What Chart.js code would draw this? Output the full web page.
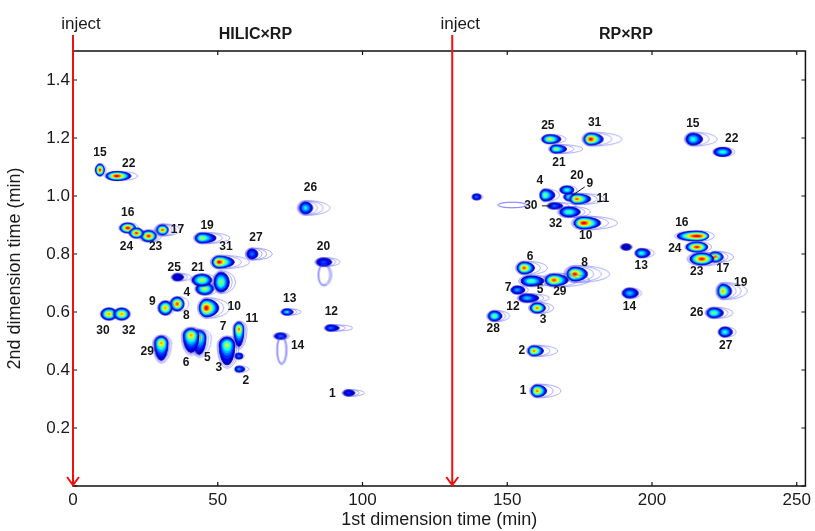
<!DOCTYPE html>
<html>
<head>
<meta charset="utf-8">
<script src="https://cdn.jsdelivr.net/npm/chart.js@4"></script>
<style>
  body { margin: 0; background: #fff; }
  #wrap { width: 815px; height: 531px; }
</style>
</head>
<body>
<div id="wrap"><canvas id="c" width="815" height="531"></canvas></div>
<script>
// HILIC x RP: peak number, 1st dim time (min), 2nd dim time (min), relative height
const hilicPeaks = ['1','2','3','4','5','6','7','8','9','10','11','12','13','14','15','16','17','19','20','21','22','23','24','25','26','27','29','30','31','32','','',''];
const hilicT1 = [95.1,57.3,57.3,45.5,43.6,40.8,53.2,36.0,31.9,46.0,57.3,88.9,73.8,71.7,9.3,18.9,30.9,44.6,86.5,44.5,15.1,26.1,21.9,36.0,80.3,61.8,30.5,12.4,50.4,16.8,51.1,86.5,72.0];
const hilicT2 = [0.321,0.403,0.448,0.680,0.513,0.520,0.486,0.628,0.614,0.614,0.541,0.545,0.600,0.517,1.090,0.890,0.883,0.855,0.772,0.710,1.069,0.862,0.872,0.720,0.959,0.800,0.493,0.593,0.772,0.593,0.703,0.728,0.469];
const hilicHeight = [0.2,0.35,0.3,0.65,0.7,0.8,0.65,0.9,0.8,1.0,0.85,0.3,0.45,0.3,0.95,1.0,0.9,0.65,0.25,0.65,1.0,0.95,0.95,0.15,0.45,0.3,0.8,0.8,1.0,0.8,0.6,0.08,0.07];

// RP x RP
const rpPeaks = ['1','2','3','4','5','6','7','8','9','10','11','12','13','14','15','16','17','19','20','21','22','23','24','25','26','27','28','29','30','31','32','','',''];
const rpT1 = [160.3,159.2,160.3,163.0,158.2,155.8,153.4,173.3,171.6,176.4,174.0,156.8,196.3,192.2,214.1,215.5,221.7,224.4,170.6,166.8,224.4,217.2,215.5,164.7,221.3,225.1,145.5,166.1,166.1,178.8,171.2,139.3,151.7,191.1];
const rpT2 = [0.328,0.466,0.614,1.003,0.707,0.752,0.676,0.731,0.997,0.907,0.990,0.648,0.803,0.665,1.196,0.862,0.790,0.672,1.021,1.162,1.152,0.783,0.824,1.196,0.597,0.531,0.586,0.710,0.966,1.196,0.945,0.997,0.969,0.824];
const rpHeight = [0.85,0.85,0.85,0.6,0.55,0.9,0.35,0.95,0.55,1.0,0.9,0.4,0.5,0.4,0.5,1.0,0.9,0.8,0.5,0.65,0.5,0.95,0.95,0.7,0.6,0.5,0.6,0.9,0.3,1.0,0.55,0.3,0.08,0.12];

const injectTimes = [0, 131];
const panelNames = ['HILIC×RP', 'RP×RP'];

// spot look: [half width px, half height px, right tailing, down tailing, contour rings, ring tailing]
const hilicShape = [[5,3,1.3,1,2,2],[4,3,1.5,1,1,1.5],[4,3,1,1,1,1.2],[9,6,1,1,1,1.3],[7,7,1,2.5,2,1.4],[8,7,1,2.5,2,1.2],[8,8,1,2.5,2,1.2],[7,7,1,1,1,1.5],[7,7,1,1,1,1.2],[7,9,1.8,1,2,1.5],[5,7,1,2.5,2,1.3],[5,3,1.8,1,2,2],[5,3,1.3,1,2,1.8],[6,3,1,1,2,1.2],[4.5,6,1,1,1,1.2],[8,5,1,1,1,1.2],[6,5,1,1,3,2.2],[7,5,2,1,2,1.6],[7,4,1.2,1,2,1.6],[10,6,1,1,1,1.3],[11,4.5,1.3,1,1,1.3],[8,5.5,1,1,2,1.3],[7,5,1,1,1,1],[5,3.5,1.3,1,2,1.8],[6,6,1.2,1,3,2.5],[5,5,1.2,1,3,2.5],[7,7,1,2.5,2,1.2],[8,6,1,1,1,1],[7,6,2.2,1,2,1.6],[8,6,1,1,1,1],[7,10,1.2,1,2,1.4],[4,9,1.3,1,3,1.2],[3.5,12,1,1,3,1.2]];
const rpShape = [[6,6,1.6,1,2,2],[6,5,1.6,1,2,2],[7,5,1.2,1,2,1.6],[5,6,2,1,1,1.3],[10,5,1.3,1,2,1.5],[7,6,1.5,1,2,1.8],[6,4,1.3,1,1,1.3],[8,7,1.6,1,3,2],[6,4,1.2,1,1,1.3],[10,6,1.7,1,2,1.6],[7,5,2,1,2,1.6],[8,4,1.5,1,2,1.5],[6,4.5,1.5,1,1,1.3],[7,5,1.3,1,1,1.2],[7,6,1.4,1,2,2],[20,5,0.6,1,1,1.3],[6,5,1.4,1,2,1.8],[5,7,1.8,1,3,2],[7,4,1,1,1,1.3],[6,4,1.8,1,2,2],[9,4.5,1,1,1,1.2],[12,6,1,1,2,1.5],[11,5,1,1,1,1.2],[8,4.5,1.4,1,1,1.3],[7,5,1.4,1,2,1.6],[6,5,1.3,1,1,1.3],[6,5,1.3,1,2,1.6],[9,6,1.6,1,2,2],[6,3,1.5,1,2,2],[7,6,1.8,1,2,2],[9,5,1.3,1,2,1.5],[4,3,1.2,1,1,1.2],[12,2.5,1,1,2,1],[5,3,1,1,2,1]];

// label offset from spot, px
const hilicLabelAt = [[-16,1],[7,12],[-20,12],[-18,4],[8,20],[-5,27],[-4,-18],[9,12],[-13,-6],[28,-1],[13,-10],[1,-16],[3,-13],[17,10],[0,-17],[0,-15],[15,0],[5,-12],[0,-15],[-4,-12],[12,-12],[7,11],[-10,14],[-3,-10],[5,-20],[4,-16],[-14,9],[-6,17],[7,-15],[7,17],null,null,null];
const rpLabelAt = [[-14,0],[-12,0],[6,12],[-5,-14],[9,9],[6,-11],[-9,-2],[10,-11],[20,-13],[2,13],[26,0],[-14,9],[0,13],[0,14],[0,-15],[-15,-13],[8,12],[18,-8],[10,-14],[3,14],[9,-13],[-5,13],[-22,2],[-2,-13],[-17,0],[1,14],[-1,13],[6,12],[-23,0],[4,-16],[-13,12],null,null,null];
const rpLeaders = {'9': [[15,-10],[2,-1]], '30': [[-12,0],[-1,0]]};

const FONT = 'Arial, "Liberation Sans", sans-serif';
Chart.defaults.font.family = FONT;
Chart.defaults.color = '#1a1a1a';

function jet(v) {
  const c = t => Math.round(255 * Math.max(0, Math.min(1, 1.5 - Math.abs(t))));
  return 'rgb(' + c(4 * v - 3) + ',' + c(4 * v - 2) + ',' + c(4 * v - 1) + ')';
}

function quadPath(g, cx, cy, rl, rr, rt, rb) {
  g.beginPath();
  g.ellipse(cx, cy, rr, rb, 0, 0, Math.PI / 2);
  g.ellipse(cx, cy, rl, rb, 0, Math.PI / 2, Math.PI);
  g.ellipse(cx, cy, rl, rt, 0, Math.PI, Math.PI * 1.5);
  g.ellipse(cx, cy, rr, rt, 0, Math.PI * 1.5, Math.PI * 2);
  g.closePath();
}

const fillLevels = [0.05,0.1,0.16,0.23,0.3,0.38,0.46,0.54,0.62,0.7,0.78,0.86,0.93];

function makeSpot(p, shape) {
  const [rx, ry, tr, td, rings, rt] = shape;
  const k = rings;
  const left = rx * (1 + 0.12 * k), right = rx * tr * (1 + 0.12 * k) * rt;
  const top = ry * (1 + 0.08 * k), bottom = ry * td * (1 + 0.08 * k);
  const hw = Math.ceil(Math.max(left, right, rx)) + 3;
  const hh = Math.ceil(Math.max(top, bottom, ry)) + 3;
  const cv = document.createElement('canvas');
  cv.width = hw * 2; cv.height = hh * 2;
  const g = cv.getContext('2d');
  // open contour lines
  g.strokeStyle = 'rgba(60,60,255,0.7)';
  g.lineWidth = 0.6;
  for (let j = rings; j >= 1; j--) {
    const s = 1 + 0.12 * j, s2 = 1 + 0.08 * j, e = 1 + (rt - 1) * j / rings;
    quadPath(g, hw, hh, rx * s, rx * tr * s * e, ry * s2, ry * td * s2);
    g.stroke();
  }
  if (p >= 0.1) {
    fillLevels.filter(v => v < p).forEach((v, j) => {
      const f = Math.pow((p - v) / (p - 0.05), 0.8);
      const trE = 1 + (tr - 1) * f, tdE = 1 + (td - 1) * f * f;
      quadPath(g, hw, hh, rx * f, rx * trE * f, ry * f, ry * tdE * f);
      g.fillStyle = jet(v);
      g.fill();
      if (j === 0) { g.strokeStyle = 'rgb(0,0,190)'; g.lineWidth = 0.8; g.stroke(); }
    });
  }
  return cv;
}

const hilicSprites = hilicHeight.map((p, i) => makeSpot(p, hilicShape[i]));
const rpSprites = rpHeight.map((p, i) => makeSpot(p, rpShape[i]));

const spotLabels = {
  id: 'spotLabels',
  afterDatasetsDraw(chart) {
    const ctx = chart.ctx;
    ctx.save();
    ctx.font = 'bold 12px ' + FONT;
    ctx.fillStyle = '#151515';
    ctx.strokeStyle = '#151515';
    ctx.lineWidth = 1;
    ctx.textAlign = 'center';
    ctx.textBaseline = 'middle';
    chart.data.datasets.forEach((ds, di) => {
      const pts = chart.getDatasetMeta(di).data;
      pts.forEach((pt, i) => {
        const name = ds.peaks[i];
        if (!name) return;
        const [dx, dy] = ds.labelAt[i];
        ctx.fillText(name, pt.x + dx, pt.y + dy);
        const ld = ds.leaders && ds.leaders[name];
        if (ld) {
          ctx.beginPath();
          ctx.moveTo(pt.x + ld[0][0], pt.y + ld[0][1]);
          ctx.lineTo(pt.x + ld[1][0], pt.y + ld[1][1]);
          ctx.stroke();
        }
      });
    });
    ctx.restore();
  }
};

const frame = {
  id: 'frame',
  afterDraw(chart) {
    const { ctx, chartArea: a, scales: { x, y } } = chart;
    ctx.save();
    ctx.strokeStyle = '#111';
    ctx.lineWidth = 1.5;
    ctx.strokeRect(a.left, a.top, a.right - a.left, a.bottom - a.top);
    ctx.lineWidth = 1.2;
    ctx.beginPath();
    x.ticks.forEach(t => {
      const px = x.getPixelForValue(t.value);
      ctx.moveTo(px, a.bottom); ctx.lineTo(px, a.bottom - 4);
      ctx.moveTo(px, a.top); ctx.lineTo(px, a.top + 4);
    });
    y.ticks.forEach(t => {
      const py = y.getPixelForValue(t.value);
      ctx.moveTo(a.left, py); ctx.lineTo(a.left + 4, py);
      ctx.moveTo(a.right, py); ctx.lineTo(a.right - 4, py);
    });
    ctx.stroke();

    // injection markers
    ctx.strokeStyle = '#f01010';
    ctx.fillStyle = '#1a1a1a';
    ctx.lineWidth = 2;
    ctx.font = '17px ' + FONT;
    ctx.textAlign = 'center';
    ctx.textBaseline = 'middle';
    injectTimes.forEach(t => {
      const px = x.getPixelForValue(t);
      ctx.beginPath();
      ctx.moveTo(px, 35); ctx.lineTo(px, a.bottom - 1);
      ctx.moveTo(px - 6, a.bottom - 9); ctx.lineTo(px, a.bottom - 1); ctx.lineTo(px + 6, a.bottom - 9);
      ctx.stroke();
      ctx.fillText('inject', px + 8, 24);
    });

    // panel titles
    ctx.font = 'bold 16px ' + FONT;
    const titleAt = [63, 191];
    panelNames.forEach((n, i) => ctx.fillText(n, x.getPixelForValue(titleAt[i]), 35));
    ctx.restore();
  }
};

const toPts = (xs, ys) => xs.map((v, i) => ({ x: v, y: ys[i] }));

new Chart(document.getElementById('c'), {
  type: 'scatter',
  data: {
    datasets: [
      { label: panelNames[0], data: toPts(hilicT1, hilicT2), peaks: hilicPeaks, labelAt: hilicLabelAt,
        pointStyle: c => hilicSprites[c.dataIndex], pointRadius: 3, pointBorderWidth: 0 },
      { label: panelNames[1], data: toPts(rpT1, rpT2), peaks: rpPeaks, labelAt: rpLabelAt, leaders: rpLeaders,
        pointStyle: c => rpSprites[c.dataIndex], pointRadius: 3, pointBorderWidth: 0 }
    ]
  },
  options: {
    responsive: false,
    animation: false,
    events: [],
    layout: { padding: { top: 51, right: 6, left: 0, bottom: 0 } },
    plugins: { legend: { display: false }, tooltip: { enabled: false } },
    scales: {
      x: {
        type: 'linear', min: 0, max: 253,
        afterFit: s => { s.height = 45; },
        grid: { display: false, drawTicks: false },
        border: { display: false },
        ticks: { stepSize: 50, includeBounds: false, padding: 4, maxRotation: 0, font: { size: 17 } },
        title: { display: true, text: '1st dimension time (min)', font: { size: 18 }, padding: { top: 0, bottom: 0 } }
      },
      y: {
        type: 'linear', min: 0, max: 1.5,
        afterFit: s => { s.width = 73; },
        grid: { display: false, drawTicks: false },
        border: { display: false },
        ticks: { stepSize: 0.2, includeBounds: false, padding: 3, font: { size: 17 },
          callback: v => (v === 0 ? '' : v.toFixed(1)) },
        title: { display: true, text: '2nd dimension time (min)', font: { size: 18 }, padding: { top: 4, bottom: 0 } }
      }
    }
  },
  plugins: [spotLabels, frame]
});
</script>
</body>
</html>
